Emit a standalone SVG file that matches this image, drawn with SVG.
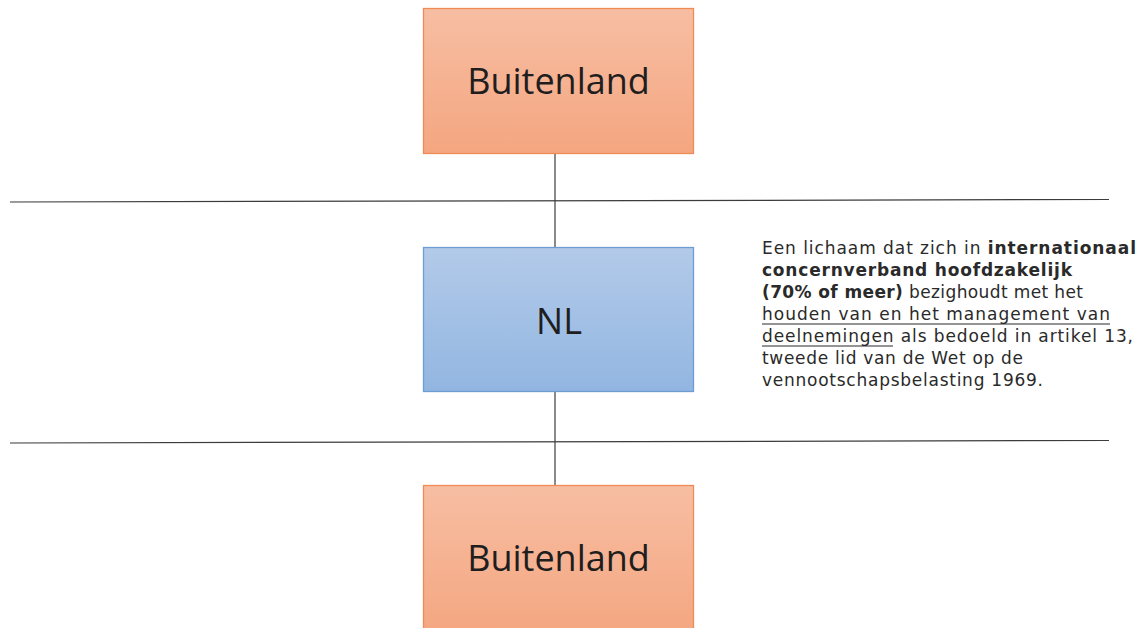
<svg xmlns="http://www.w3.org/2000/svg" width="1140" height="628" viewBox="0 0 1140 628">
  <defs>
    <linearGradient id="gOrange" x1="0" y1="0" x2="0" y2="1">
      <stop offset="0" stop-color="#F7BEA3"/>
      <stop offset="1" stop-color="#F4A680"/>
    </linearGradient>
    <linearGradient id="gBlue" x1="0" y1="0" x2="0" y2="1">
      <stop offset="0" stop-color="#B3CAE9"/>
      <stop offset="1" stop-color="#92B6E1"/>
    </linearGradient>
    <style>
      .orange { fill: url(#gOrange); stroke: #EF8C55; stroke-width: 1.3; }
      .blue { fill: url(#gBlue); stroke: #6E9DD4; stroke-width: 1.3; }
      .label { font-family: "Open Sans", "Noto Sans", sans-serif; font-size: 36px; fill: #1E1E1E; text-anchor: middle; }
      .conn { stroke: #3C3C3C; stroke-width: 1.2; fill: none; }
      .rule { stroke: #3C3C3C; stroke-width: 1.2; fill: none; }
      .note { font-family: "DejaVu Sans", Verdana, sans-serif; font-size: 17px; fill: #2A2A2A; }
      .b { font-weight: bold; }
      .uline { stroke: #2A2A2A; stroke-width: 1.2; }
    </style>
  </defs>

  <!-- horizontal boundary lines -->
  <g id="boundaries">
    <line class="rule" x1="10" y1="202" x2="1109" y2="199.5"/>
    <line class="rule" x1="10" y1="443" x2="1109" y2="440.5"/>
  </g>

  <!-- vertical connectors between the entities -->
  <g id="connectors">
    <line class="conn" x1="555" y1="153" x2="555" y2="247"/>
    <line class="conn" x1="555" y1="391" x2="555" y2="485"/>
  </g>

  <g id="node-buitenland-top">
    <rect class="orange" x="423.5" y="8.5" width="270" height="145"/>
    <text class="label" x="558.5" y="94">Buitenland</text>
  </g>

  <g id="node-nl">
    <rect class="blue" x="423.5" y="247.5" width="270" height="144"/>
    <text class="label" x="559" y="334">NL</text>
  </g>

  <g id="node-buitenland-bottom">
    <rect class="orange" x="423.5" y="485.5" width="270" height="150"/>
    <text class="label" x="558.5" y="571">Buitenland</text>
  </g>

  <!-- explanatory note -->
  <g id="note">
    <text class="note" x="762" y="254" textLength="374" lengthAdjust="spacing">Een lichaam dat zich in <tspan class="b">internationaal</tspan></text>
    <text class="note b" x="762" y="276" textLength="310" lengthAdjust="spacing">concernverband hoofdzakelijk</text>
    <text class="note" x="762" y="298" textLength="321" lengthAdjust="spacing"><tspan class="b">(70% of meer)</tspan> bezighoudt met het</text>
    <text class="note" x="762" y="320" textLength="348" lengthAdjust="spacing">houden van en het management van</text>
    <text class="note" x="762" y="342" textLength="371" lengthAdjust="spacing">deelnemingen als bedoeld in artikel 13,</text>
    <text class="note" x="762" y="364" textLength="261" lengthAdjust="spacing">tweede lid van de Wet op de</text>
    <text class="note" x="762" y="386" textLength="281" lengthAdjust="spacing">vennootschapsbelasting 1969.</text>
    <!-- continuous underlines for the emphasised phrase -->
    <line class="uline" x1="762" y1="324" x2="1110" y2="324"/>
    <line class="uline" x1="762" y1="346" x2="893" y2="346"/>
  </g>
</svg>
